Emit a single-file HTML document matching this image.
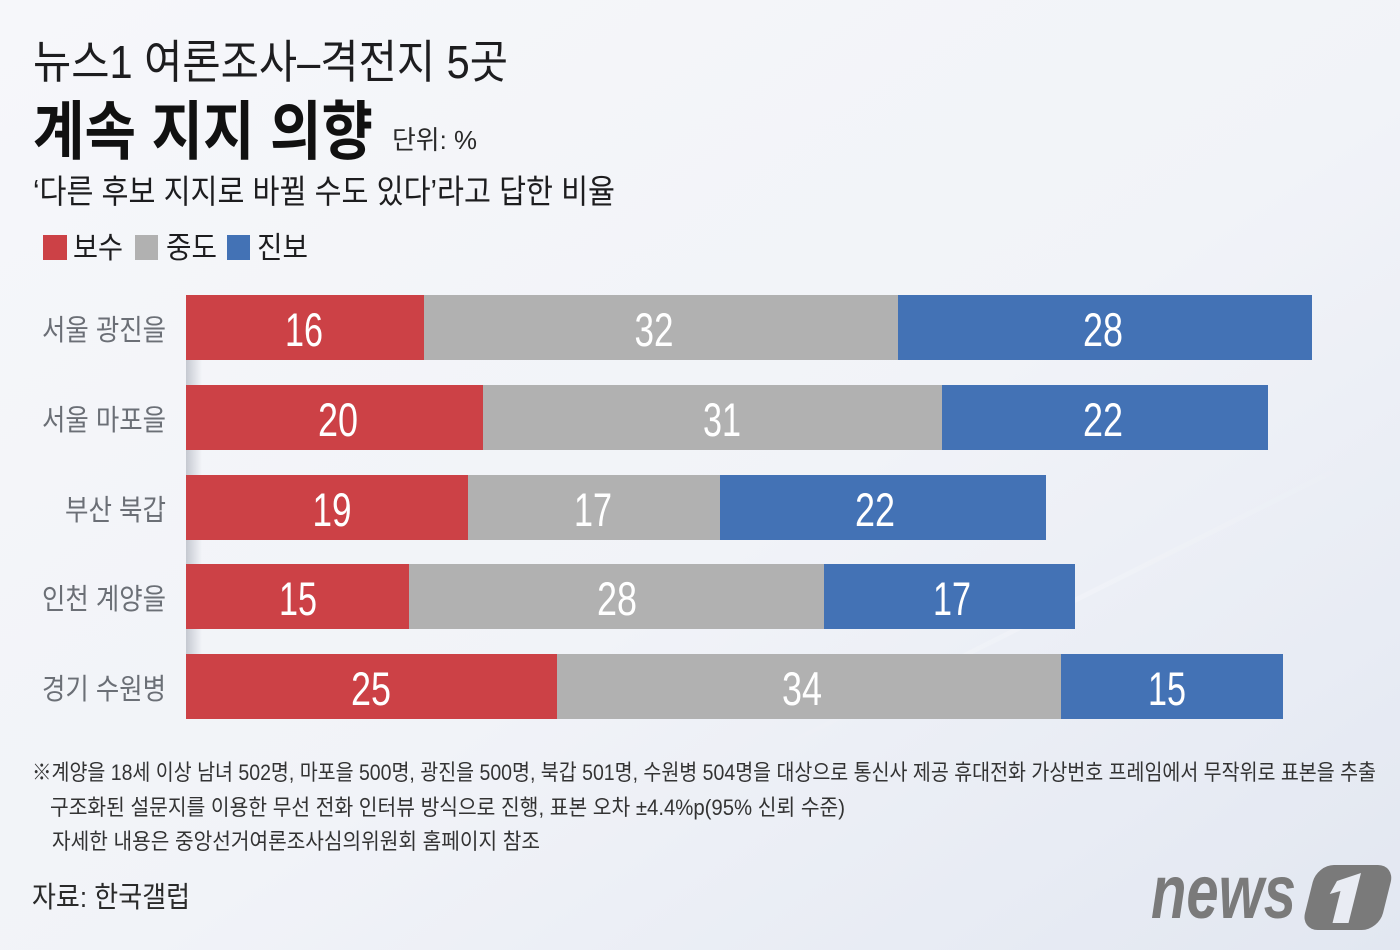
<!DOCTYPE html>
<html lang="ko">
<head>
<meta charset="utf-8">
<style>
html,body{margin:0;padding:0;width:1400px;height:950px;overflow:hidden;background:#f2f4f8;}
svg{display:block;}
text{font-family:"Liberation Sans","Noto Sans CJK KR",sans-serif;}
</style>
</head>
<body>
<svg width="1400" height="950" viewBox="0 0 1400 950" xmlns="http://www.w3.org/2000/svg">
  <defs>
    <linearGradient id="bg" x1="0" y1="0" x2="1" y2="1">
      <stop offset="0" stop-color="#f6f7fa"/>
      <stop offset="0.55" stop-color="#f1f3f8"/>
      <stop offset="1" stop-color="#e2e7f1"/>
    </linearGradient>
    <linearGradient id="streak" x1="0" y1="1" x2="1" y2="0">
      <stop offset="0" stop-color="#ffffff" stop-opacity="0"/>
      <stop offset="0.5" stop-color="#ffffff" stop-opacity="0.5"/>
      <stop offset="1" stop-color="#ffffff" stop-opacity="0"/>
    </linearGradient>
    <linearGradient id="lsh" x1="0" y1="0" x2="1" y2="0">
      <stop offset="0" stop-color="#8d93a0" stop-opacity="0.45"/>
      <stop offset="1" stop-color="#8d93a0" stop-opacity="0"/>
    </linearGradient>
  </defs>

  <rect x="0" y="0" width="1400" height="950" fill="url(#bg)"/>
  <polygon points="1360,455 1366,458 760,760 750,760" fill="url(#streak)" opacity="0.45"/>

  <!-- Titles -->
  <text x="33" y="78" font-size="46" fill="#1d1d1f" textLength="475" lengthAdjust="spacingAndGlyphs">뉴스1 여론조사–격전지 5곳</text>
  <text x="33" y="154" font-size="64" font-weight="700" fill="#111" textLength="340" lengthAdjust="spacingAndGlyphs">계속 지지 의향</text>
  <text x="392" y="149" font-size="26" fill="#2a2a2a" textLength="85" lengthAdjust="spacingAndGlyphs">단위: %</text>
  <text x="33" y="203" font-size="33" fill="#1d1d1f" textLength="582" lengthAdjust="spacingAndGlyphs">‘다른 후보 지지로 바뀔 수도 있다’라고 답한 비율</text>

  <!-- Legend -->
  <rect x="43" y="235" width="24" height="25" fill="#cc4146"/>
  <text x="73" y="258" font-size="30" fill="#1d1d1f" textLength="50" lengthAdjust="spacingAndGlyphs">보수</text>
  <rect x="135" y="235" width="23" height="25" fill="#b1b1b1"/>
  <text x="166" y="258" font-size="30" fill="#1d1d1f" textLength="51" lengthAdjust="spacingAndGlyphs">중도</text>
  <rect x="227" y="235" width="23" height="25" fill="#4372b5"/>
  <text x="257" y="258" font-size="30" fill="#1d1d1f" textLength="51" lengthAdjust="spacingAndGlyphs">진보</text>

  <!-- Left bar shadow -->
  <rect x="186" y="295" width="16" height="424" fill="url(#lsh)"/>

  <!-- Row labels -->
  <g font-size="29" fill="#6b6f76" text-anchor="end">
    <text x="166" y="340" textLength="124" lengthAdjust="spacingAndGlyphs">서울 광진을</text>
    <text x="166" y="430" textLength="124" lengthAdjust="spacingAndGlyphs">서울 마포을</text>
    <text x="166" y="520" textLength="101" lengthAdjust="spacingAndGlyphs">부산 북갑</text>
    <text x="166" y="609" textLength="124" lengthAdjust="spacingAndGlyphs">인천 계양을</text>
    <text x="166" y="699" textLength="124" lengthAdjust="spacingAndGlyphs">경기 수원병</text>
  </g>

  <!-- Bars -->
  <g>
    <rect x="186" y="295" width="238" height="65" fill="#cc4146"/>
    <rect x="424" y="295" width="474" height="65" fill="#b1b1b1"/>
    <rect x="898" y="295" width="414" height="65" fill="#4372b5"/>

    <rect x="186" y="385" width="297" height="65" fill="#cc4146"/>
    <rect x="483" y="385" width="459" height="65" fill="#b1b1b1"/>
    <rect x="942" y="385" width="326" height="65" fill="#4372b5"/>

    <rect x="186" y="475" width="282" height="65" fill="#cc4146"/>
    <rect x="468" y="475" width="252" height="65" fill="#b1b1b1"/>
    <rect x="720" y="475" width="326" height="65" fill="#4372b5"/>

    <rect x="186" y="564" width="223" height="65" fill="#cc4146"/>
    <rect x="409" y="564" width="415" height="65" fill="#b1b1b1"/>
    <rect x="824" y="564" width="251" height="65" fill="#4372b5"/>

    <rect x="186" y="654" width="371" height="65" fill="#cc4146"/>
    <rect x="557" y="654" width="504" height="65" fill="#b1b1b1"/>
    <rect x="1061" y="654" width="222" height="65" fill="#4372b5"/>
  </g>

  <!-- Values -->
  <g font-size="47" fill="#ffffff" text-anchor="middle">
    <text x="304" y="346" textLength="38" lengthAdjust="spacingAndGlyphs">16</text>
    <text x="654" y="346" textLength="39" lengthAdjust="spacingAndGlyphs">32</text>
    <text x="1103" y="346" textLength="40" lengthAdjust="spacingAndGlyphs">28</text>

    <text x="338" y="436" textLength="40" lengthAdjust="spacingAndGlyphs">20</text>
    <text x="722" y="436" textLength="38" lengthAdjust="spacingAndGlyphs">31</text>
    <text x="1103" y="436" textLength="40" lengthAdjust="spacingAndGlyphs">22</text>

    <text x="332" y="526" textLength="39" lengthAdjust="spacingAndGlyphs">19</text>
    <text x="593" y="526" textLength="38" lengthAdjust="spacingAndGlyphs">17</text>
    <text x="875" y="526" textLength="40" lengthAdjust="spacingAndGlyphs">22</text>

    <text x="298" y="615" textLength="38" lengthAdjust="spacingAndGlyphs">15</text>
    <text x="617" y="615" textLength="40" lengthAdjust="spacingAndGlyphs">28</text>
    <text x="952" y="615" textLength="38" lengthAdjust="spacingAndGlyphs">17</text>

    <text x="371" y="705" textLength="40" lengthAdjust="spacingAndGlyphs">25</text>
    <text x="802" y="705" textLength="40" lengthAdjust="spacingAndGlyphs">34</text>
    <text x="1167" y="705" textLength="38" lengthAdjust="spacingAndGlyphs">15</text>
  </g>

  <!-- Footnotes -->
  <g font-size="22" fill="#333">
    <text x="32" y="780" textLength="1344" lengthAdjust="spacingAndGlyphs">※계양을 18세 이상 남녀 502명, 마포을 500명, 광진을 500명, 북갑 501명, 수원병 504명을 대상으로 통신사 제공 휴대전화 가상번호 프레임에서 무작위로 표본을 추출</text>
    <text x="50" y="815" textLength="795" lengthAdjust="spacingAndGlyphs">구조화된 설문지를 이용한 무선 전화 인터뷰 방식으로 진행, 표본 오차 ±4.4%p(95% 신뢰 수준)</text>
    <text x="52" y="849" textLength="488" lengthAdjust="spacingAndGlyphs">자세한 내용은 중앙선거여론조사심의위원회 홈페이지 참조</text>
  </g>
  <text x="32" y="907" font-size="29" fill="#2a2a2a" textLength="158" lengthAdjust="spacingAndGlyphs">자료: 한국갤럽</text>

  <!-- news1 logo -->
  <text x="1151" y="918" font-size="76" font-weight="700" font-style="italic" fill="#7a7a7a" textLength="145" lengthAdjust="spacingAndGlyphs">news</text>
  <g transform="translate(1347,897) skewX(-14)">
    <rect x="-38" y="-32" width="78" height="65" rx="17" fill="#7a7a7a"/>
    <path d="M-14,-16 L8,-24 L8,26 L-8,26 L-8,-6 L-18,-3 Z" fill="#e9ecf3"/>
  </g>
</svg>
</body>
</html>
